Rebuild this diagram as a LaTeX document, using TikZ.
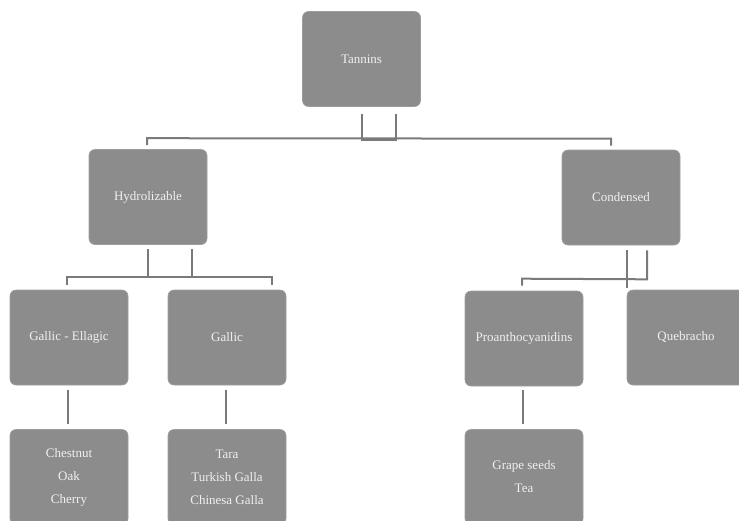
\documentclass[tikz,border=0pt]{standalone}
\usepackage{fontspec}
\setmainfont{Liberation Serif}
\usetikzlibrary{calc}
\definecolor{boxgray}{HTML}{8C8C8C}
\definecolor{linegray}{HTML}{7A7A7A}
\definecolor{txtgray}{HTML}{F0F0F0}
\tikzset{
  tbox/.style={draw=boxgray!85!white, line width=0.6pt, fill=boxgray, rounded corners=6pt,
    minimum width=118pt, minimum height=95pt, inner sep=2pt,
    text=txtgray, font=\fontsize{13}{23}\selectfont, align=center},
  conn/.style={draw=linegray, line width=2pt}
}
\begin{document}
\begin{tikzpicture}[x=1pt,y=-1pt]
\useasboundingbox (0,0) rectangle (739,520);
\clip (0,0) rectangle (739,520);
\node[tbox] (tan) at (361.5,59) {Tannins};
\node[tbox] (hyd) at (148,197) {Hydrolizable};
\node[tbox] (con) at (621,197.5) {Condensed};
\node[tbox] (gel) at (69,337.5) {Gallic - Ellagic};
\node[tbox] (gal) at (227,337.5) {Gallic};
\node[tbox] (pro) at (524,338.5) {Proanthocyanidins};
\node[tbox] (que) at (686,337.5) {Quebracho};
\node[tbox] (che) at (69,477) {Chestnut\\Oak\\Cherry};
\node[tbox] (tar) at (227,477) {Tara\\Turkish Galla\\Chinesa Galla};
\node[tbox] (gra) at (524,477) {Grape seeds\\Tea};
% Tannins bracket
\draw[conn] ($(tan.south)+(0,7)$) -- ($(tan.south)+(0,34)$);
\draw[conn] ($(tan.south)+(34.5,7)$) -- ($(tan.south)+(34.5,34)$);
\draw[conn] ($(tan.south)+(0,33.5)$) -- ($(tan.south)+(34.5,33.5)$);
\draw[conn] ($(hyd.north)+(-1,-4)$) -- ($(hyd.north)+(-1,-11)$) -- ($(con.north)+(-10,-11)$) -- ($(con.north)+(-10,-4)$);
% Hydrolizable bracket
\draw[conn] ($(hyd.south)+(0,4)$) -- ($(hyd.south)+(0,33)$);
\draw[conn] ($(hyd.south)+(44,4)$) -- ($(hyd.south)+(44,33)$);
\draw[conn] ($(gel.north)+(-2,-5)$) -- ($(gel.north)+(-2,-12.5)$) -- ($(gal.north)+(45,-12.5)$) -- ($(gal.north)+(45,-5)$);
% Condensed bracket
\draw[conn] ($(con.south)+(6,5)$) -- ($(con.south)+(6,43)$);
\draw[conn] ($(con.south)+(26,5)$) -- ($(con.south)+(26,34)$) -- ($(pro.north)+(-2,-12)$) -- ($(pro.north)+(-2,-5)$);
% Level 3 to level 4
\draw[conn] ($(gel.south)+(-1,5)$) -- ($(che.north)+(-1,-5)$);
\draw[conn] ($(gal.south)+(-1,5)$) -- ($(tar.north)+(-1,-5)$);
\draw[conn] ($(pro.south)+(-1,4)$) -- ($(gra.north)+(-1,-5)$);
\end{tikzpicture}
\end{document}
